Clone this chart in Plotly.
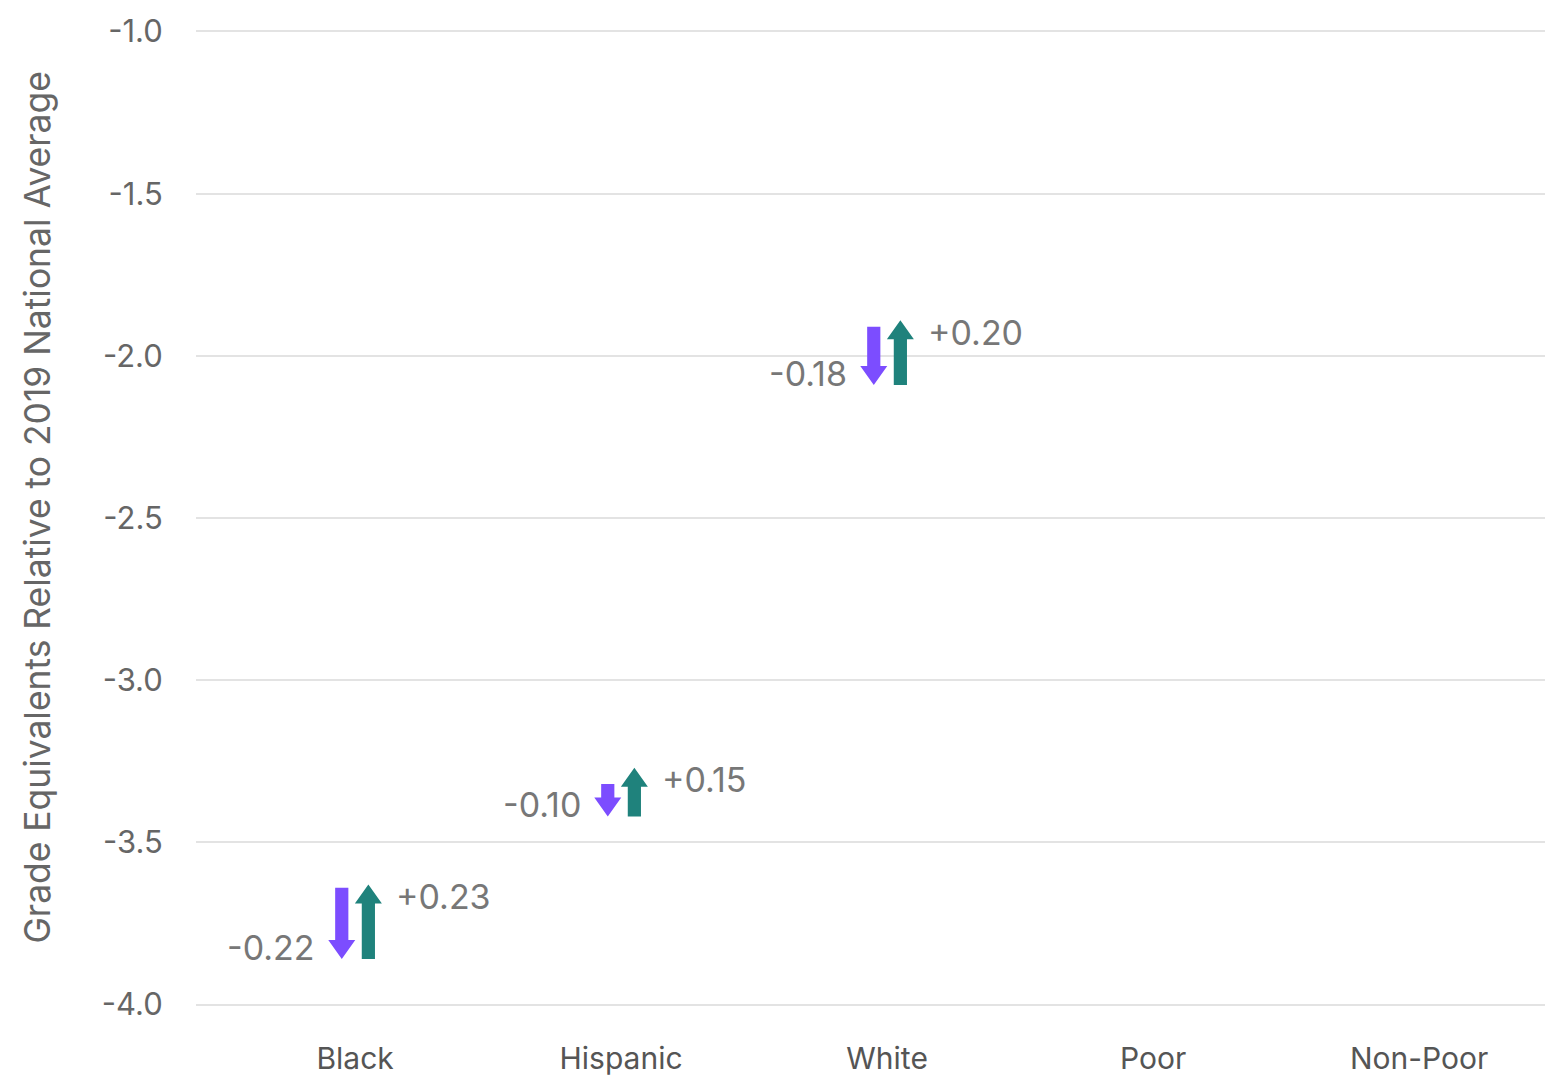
import plotly.graph_objects as go

categories = ["Black", "Hispanic", "White", "Poor", "Non-Poor"]
start_vals = [-3.64, -3.32, -1.91]
drops = [-0.22, -0.10, -0.18]
gains = [0.23, 0.15, 0.20]
y_ticks = [-1.0, -1.5, -2.0, -2.5, -3.0, -3.5, -4.0]

PURPLE = "#7c4dff"
TEAL = "#1f827c"
FONT = "Inter, Liberation Sans, Arial"
PX_PER_X = 266.0
PX_PER_Y = 324.33
off = 13.3 / PX_PER_X
shaft_hw = 6.6 / PX_PER_X
head_hw = 13.5 / PX_PER_X
head_h = 19.0 / PX_PER_Y

fig = go.Figure()


def arrow(cx, y_from, y_to, color):
    d = 1 if y_to > y_from else -1
    base = y_to - d * head_h
    xs = [cx - shaft_hw, cx + shaft_hw, cx + shaft_hw, cx + head_hw, cx, cx - head_hw, cx - shaft_hw, cx - shaft_hw]
    ys = [y_from, y_from, base, base, y_to, base, base, y_from]
    fig.add_trace(go.Scatter(x=xs, y=ys, fill="toself", fillcolor=color, mode="lines",
                             line=dict(width=0, color=color), hoverinfo="skip", showlegend=False))


annotations = []
for i, (s, d, g) in enumerate(zip(start_vals, drops, gains)):
    mid = s + d
    end = mid + g
    arrow(i - off, s, mid, PURPLE)
    arrow(i + off, mid, end, TEAL)
    annotations.append(dict(x=i - off, y=mid, xref="x", yref="y", text=f"{d:.2f}", showarrow=False,
                            xanchor="right", yanchor="middle", xshift=-25, yshift=12,
                            font=dict(size=34, color="#777777", family=FONT)))
    annotations.append(dict(x=i + off, y=end, xref="x", yref="y", text=f"+{g:.2f}", showarrow=False,
                            xanchor="left", yanchor="middle", xshift=26, yshift=-12,
                            font=dict(size=34, color="#777777", family=FONT)))

annotations.append(dict(x=0, y=0.5106, xref="paper", yref="paper", xshift=-158, textangle=-90,
                        text="Grade Equivalents Relative to 2019 National Average", showarrow=False,
                        xanchor="center", yanchor="middle",
                        font=dict(size=35.4, color="#666666", family=FONT)))

fig.update_layout(
    width=1545, height=1078,
    margin=dict(l=196, r=0, t=25, b=67),
    plot_bgcolor="white", paper_bgcolor="white",
    annotations=annotations,
    xaxis=dict(range=[-0.598, 4.4734], tickvals=list(range(len(categories))), ticktext=categories,
               showgrid=False, zeroline=False, showline=False,
               ticks="outside", ticklen=21, tickcolor="rgba(0,0,0,0)",
               tickfont=dict(size=30, color="#555555", family=FONT)),
    yaxis=dict(range=[-4.02, -0.98], tickvals=y_ticks, ticktext=[f"{v:.1f}" for v in y_ticks],
               showgrid=True, gridcolor="#e3e3e3", gridwidth=2, zeroline=False, showline=False,
               ticks="outside", ticklen=26, tickcolor="rgba(0,0,0,0)",
               tickfont=dict(size=31, color="#666666", family=FONT)),
)

fig.write_html("out.html", config={"displayModeBar": False},
               post_script="document.body.style.margin='0';")
